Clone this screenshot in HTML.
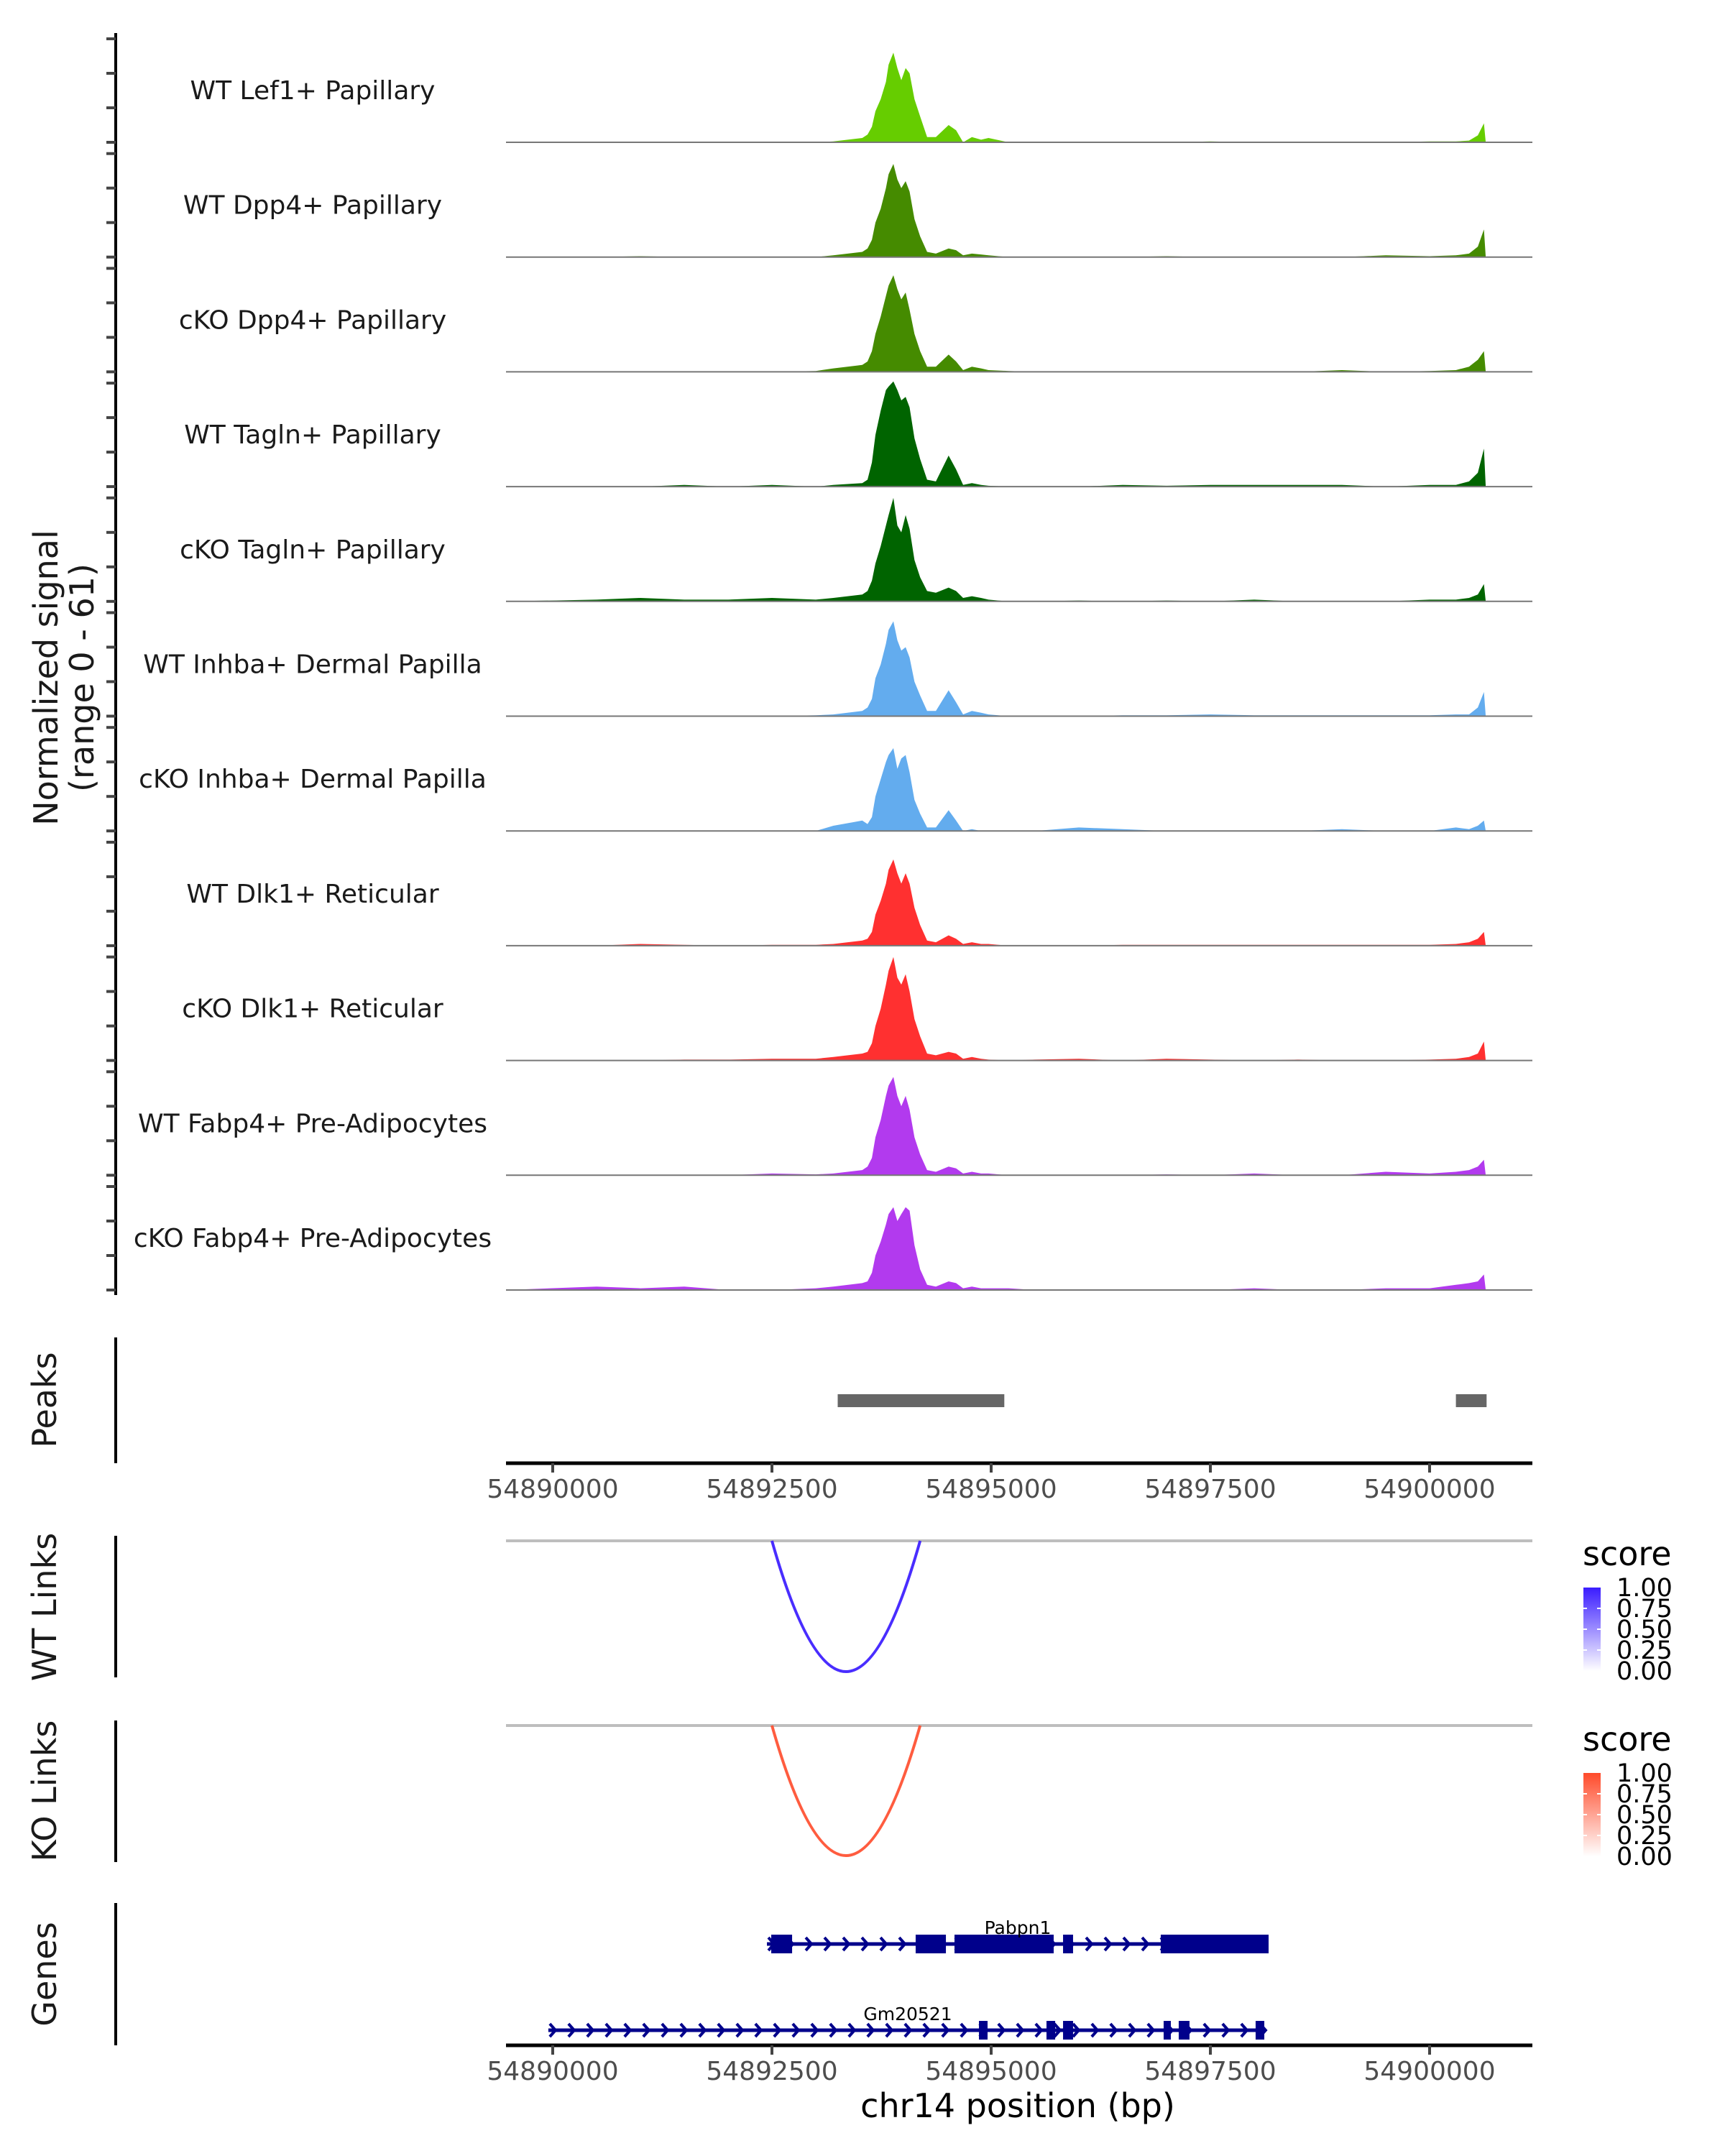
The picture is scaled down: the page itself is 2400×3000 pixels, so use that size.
<!DOCTYPE html>
<html><head><meta charset="utf-8"><style>
html,body{margin:0;padding:0;background:#fff;}
svg{display:block;font-family:"DejaVu Sans","Liberation Sans",sans-serif;}
</style></head><body>
<svg id="chart" width="2400" height="3000" viewBox="0 0 2400 3000" xmlns="http://www.w3.org/2000/svg">
<g id="tracks"></g>
<g id="lower"></g>
<text transform="translate(80,943) rotate(-90)" text-anchor="middle" font-size="46" fill="#1a1a1a">Normalized signal</text>
<text transform="translate(130,943) rotate(-90)" text-anchor="middle" font-size="46" fill="#1a1a1a">(range 0 - 61)</text>
</svg>
<script>
const positions = [54889470,54890500,54891000,54891500,54892000,54892500,54893000,54893200,54893530,54893590,54893640,54893680,54893740,54893800,54893830,54893885,54893930,54893975,54894025,54894070,54894125,54894190,54894270,54894370,54894515,54894600,54894680,54894780,54894885,54894970,54895200,54895500,54896000,54896500,54897000,54897500,54898000,54898500,54899000,54899500,54900000,54900300,54900450,54900550,54900620,54900640];
const trackNames = ["WT Lef1+ Papillary","WT Dpp4+ Papillary","cKO Dpp4+ Papillary","WT Tagln+ Papillary","cKO Tagln+ Papillary","WT Inhba+ Dermal Papilla","cKO Inhba+ Dermal Papilla","WT Dlk1+ Reticular","cKO Dlk1+ Reticular","WT Fabp4+ Pre-Adipocytes","cKO Fabp4+ Pre-Adipocytes"];
const trackColors = ["#66CD00","#458B00","#458B00","#006400","#006400","#63ACEE","#63ACEE","#FF3030","#FF3030","#B23AEE","#B23AEE"];
const sigLef1WT  = [0,0,0,0,0,0,0,0.5,2.5,4.5,9,18,25,35,45,52,43,36,43,40,25,15,3,3,10,7,0,3,1.5,2.5,0,0,0,0,0,0.5,0,0,0,0,0.5,0.5,1,4,11,0];
const sigDpp4WT  = [0,0,0.5,0,0,0,0,1,3,5,10,20,28,40,48,54,45,40,44,38,22,12,3,2,5,4,1,2,1.5,1,0,0,0,0,0.5,0,0,0,0,1,0.5,1,2,6,16,0];
const sigDpp4KO  = [0,0,0,0,0,0,0.5,2,4,6,12,22,32,44,50,56,48,42,46,36,22,12,3,3,10,6,1,3,2,1,0.5,0,0,0,0,0,0,0,1,0,0.5,1,3,7,12,0];
const sigTaglnWT = [0,0,0,1,0,1,0,1,2,4,14,30,44,56,58,61,56,50,52,46,28,16,4,3,18,10,1,2,1,0.5,0,0,0,1,0.5,1,1,1,1,0,1,1,3,8,22,0];
const sigTaglnKO = [0,1,2,1,1,2,1,2,4,6,12,22,32,44,50,60,44,40,50,42,24,14,6,5,8,6,2,3,2,1,0,0,0.5,0,0.5,0,1,0,0,0,1,1,2,4,10,0];
const sigInhbaWT = [0,0,0,0,0,0,0.5,1,3,5,10,22,30,42,50,55,44,38,40,34,20,12,3,3,15,8,1,3,2,1,0,0,0,0.5,0.5,1,0.5,0.5,0.5,0.5,0.5,1,1,5,14,0];
const sigInhbaKO = [0,0,0,0,0,0,0,3,6,4,8,20,30,40,44,48,36,42,44,34,18,10,2,2,12,6,0,1,0,0,0,0,2,1,0,0,0,0,1,0,0,2,1,3,6,0];
const sigDlk1WT  = [0,0,1,0.5,0,0.5,0.5,1,3,4,8,18,26,36,44,50,42,36,42,36,22,12,3,2,6,4,1,2,1,1,0,0,0,0.5,0.5,0.5,0.5,0.5,0.5,0.5,0.5,1,2,4,8,0];
const sigDlk1KO  = [0,0,0,0.5,0.5,1,1,2,4,5,10,20,30,44,52,60,48,44,50,40,24,14,4,3,5,4,1,2,1,0.5,0,0.5,1,0,1,0.5,0,0.5,0,0,0.5,1,2,4,11,0];
const sigFabp4WT = [0,0,0,0,0,1,0.5,1,3,5,10,22,32,46,52,57,46,40,46,38,22,12,3,2,5,4,1,2,1,1,0,0,0,0,0.5,0,1,0,0,2,1,2,3,5,9,0];
const sigFabp4KO = [0,2,1,2,0,0,1,2,4,5,10,20,28,38,44,48,40,44,48,46,26,12,3,2,5,4,1,2,1,1,1,0,0,0,0,0,1,0,0,1,1,3,4,5,9,0];
const signals = [sigLef1WT,sigDpp4WT,sigDpp4KO,sigTaglnWT,sigTaglnKO,sigInhbaWT,sigInhbaKO,sigDlk1WT,sigDlk1KO,sigFabp4WT,sigFabp4KO];
const xTicks = [54890000,54892500,54895000,54897500,54900000];
const xTickLabels = ["54890000","54892500","54895000","54897500","54900000"];
const peakStarts = [54893250,54900300];
const peakEnds = [54895150,54900650];
const linkStarts = [54892500];
const linkEnds = [54894190];
const linkScoresWT = [0.85];
const linkScoresKO = [0.8];
const legendTicks = [1.00,0.75,0.50,0.25,0.00];
const legendLabels = ["1.00","0.75","0.50","0.25","0.00"];
const geneNames = ["Pabpn1","Gm20521"];
const geneStarts = [54892443,54889950];
const geneEnds = [54898164,54898115];
const geneExonStarts = [[54892492,54894139,54894582,54895820,54896934],[54894861,54895631,54895820,54896967,54897139,54898016]];
const geneExonEnds = [[54892730,54894484,54895713,54895934,54898164],[54894959,54895730,54895934,54897049,54897262,54898115]];

const NS='http://www.w3.org/2000/svg';
const X0=704,X1=2132;
const xScale = bp => 769 + (bp-54890000)*(305/2500);
const UNIT = 2.4;
const baselines = [];
for (let i=0;i<11;i++) baselines.push(198 + i*159.7);
const yScale = (i,v) => baselines[i] - v*UNIT;
function mk(tag, attrs, parent){const e=document.createElementNS(NS,tag);for(const k in attrs)e.setAttribute(k,attrs[k]);parent.appendChild(e);return e;}
const T=document.getElementById('tracks'), L=document.getElementById('lower');

let ax=mk('line',{x1:161,x2:161,y1:46,y2:1802,stroke:'#000','stroke-width':4},T);


signals.forEach((s,i)=>{
  for(let k=0;k<4;k++){
    const t=mk('line',{x1:148,x2:161,y1:yScale(i,k*20),y2:yScale(i,k*20),stroke:'#444','stroke-width':4},T);
    
    
  }
  let d='M'+xScale(positions[0])+','+baselines[i];
  s.forEach((v,j)=>{d+=' L'+xScale(positions[j]).toFixed(1)+','+yScale(i,v).toFixed(1);});
  d+=' L'+xScale(positions[positions.length-1])+','+baselines[i]+' Z';
  const a=mk('path',{d:d,fill:trackColors[i]},T);
  
  
  const b=mk('line',{x1:X0,x2:X1,y1:baselines[i],y2:baselines[i],stroke:'#777','stroke-width':2},T);
  
  
  const lb=mk('text',{x:435,y:baselines[i]-60,'text-anchor':'middle','font-size':36,fill:'#1a1a1a'},T);
  lb.textContent=trackNames[i];
  
  
});

function vtitle(txt,cy,name){const t=mk('text',{transform:'translate(78,'+cy+') rotate(-90)','text-anchor':'middle','font-size':46,fill:'#1a1a1a'},L);t.textContent=txt;}
function vaxis(y1,y2,name){const a=mk('line',{x1:161,x2:161,y1:y1,y2:y2,stroke:'#000','stroke-width':4},L);}
function xaxis(y,name){
  const a=mk('line',{x1:X0,x2:X1,y1:y,y2:y,stroke:'#000','stroke-width':5},L);
  
  
  xTicks.forEach((bp,i)=>{
    const t=mk('line',{x1:xScale(bp),x2:xScale(bp),y1:y,y2:y+13,stroke:'#444','stroke-width':4},L);
    
    
    const tl=mk('text',{x:xScale(bp),y:y+48,'text-anchor':'middle','font-size':36,fill:'#4d4d4d'},L);
    tl.textContent=xTickLabels[i];
    
    
  });
}
vtitle('Peaks',1948,'peaks-title'); vaxis(1861,2036,'peaks-axis');
peakStarts.forEach((s,i)=>{const r=mk('rect',{x:xScale(s),y:1940,width:xScale(peakEnds[i])-xScale(s),height:18,fill:'#666'},L);});
xaxis(2036,'peaks-x-axis');

function links(top,bottom,scores,colorHi,title,cy,axName,legY,gid){
  vtitle(title,cy,axName+'-title'); vaxis(top-7,top+190,axName+'-axis');
  const g=mk('line',{x1:X0,x2:X1,y1:top,y2:top,stroke:'#bebebe','stroke-width':4},L);
  
  
  linkStarts.forEach((s,i)=>{
    const xa=xScale(s),xb=xScale(linkEnds[i]),mx=(xa+xb)/2,depth=bottom-top;
    const p=mk('path',{d:'M'+xa+','+top+' Q'+mx+','+(top+depth*2)+' '+xb+','+top,fill:'none',stroke:colorHi,'stroke-width':4,'stroke-opacity':0.5+0.5*scores[i]},L);
    
    
  });
  const st=mk('text',{x:2202,y:legY,'font-size':46,fill:'#000'},L);st.textContent='score';
  
  
  const gr=mk('linearGradient',{id:gid,x1:0,y1:0,x2:0,y2:1},L);
  mk('stop',{offset:0,'stop-color':colorHi},gr);mk('stop',{offset:1,'stop-color':'#fff'},gr);
  const by=legY+31;
  const cb=mk('rect',{x:2203,y:by,width:24,height:116,fill:'url(#'+gid+')'},L);
  
  
  legendTicks.forEach((v,i)=>{
    const yy=by+(1-v)*116;
    const ll=mk('text',{x:2249,y:yy+12,'font-size':35,fill:'#000'},L);ll.textContent=legendLabels[i];
    
    
    if(v>0&&v<1){mk('line',{x1:2203,x2:2208,y1:yy,y2:yy,stroke:'#fff','stroke-width':2},L);mk('line',{x1:2222,x2:2227,y1:yy,y2:yy,stroke:'#fff','stroke-width':2},L);}
  });
}
links(2144,2326,linkScoresWT,'#3a1cff','WT Links',2236,'wt-links',2178,'gWT');
links(2401,2582,linkScoresKO,'#ff4a2a','KO Links',2492,'ko-links',2436,'gKO');

vtitle('Genes',2747,'genes-title'); vaxis(2648,2846,'genes-axis');
const geneY=[2705,2825];
geneNames.forEach((n,i)=>{
  const y=geneY[i], xa=xScale(geneStarts[i]), xb=xScale(geneEnds[i]);
  const ln=mk('line',{x1:xa,x2:xb,y1:y,y2:y,stroke:'#00008B','stroke-width':5},L);
  
  
  let d='';
  for(let x=xa+2;x<xb-6;x+=26){d+='M'+x+','+(y-9)+' L'+(x+8)+','+y+' L'+x+','+(y+9)+' ';}
  const ch=mk('path',{d:d,fill:'none',stroke:'#00008B','stroke-width':4},L);
  
  
  geneExonStarts[i].forEach((s,j)=>{
    const h=26;
    const r=mk('rect',{x:xScale(s),y:y-h/2,width:xScale(geneExonEnds[i][j])-xScale(s),height:h,fill:'#00008B'},L);
    
    
  });
  const tx=mk('text',{x:i===0?1416:1263,y:y-14,'text-anchor':'middle','font-size':25,fill:'#000'},L);tx.textContent=n;
  
  
});
xaxis(2846,'genes-x-axis');
const xt=mk('text',{x:1416,y:2946,'text-anchor':'middle','font-size':46,fill:'#000'},L);xt.textContent='chr14 position (bp)';


</script>
</body></html>
